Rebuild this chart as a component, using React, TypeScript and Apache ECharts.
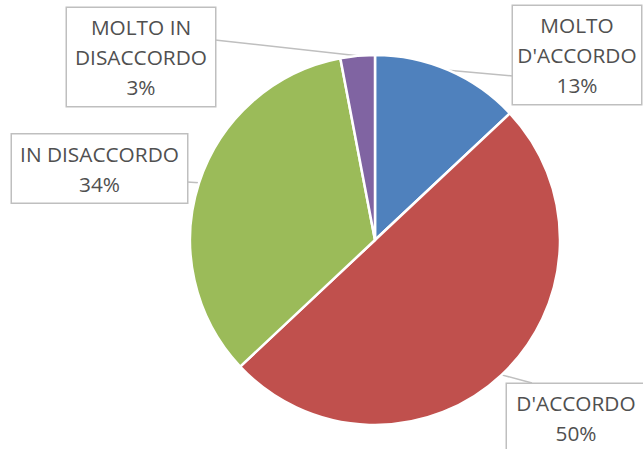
import React, { useEffect, useRef } from "react";
import * as echarts from "echarts";

const categories = ["MOLTO D'ACCORDO", "D'ACCORDO", "IN DISACCORDO", "MOLTO IN DISACCORDO"];
const labelTexts = ["MOLTO\nD'ACCORDO", "D'ACCORDO", "IN DISACCORDO", "MOLTO IN\nDISACCORDO"];
const values = [13, 50, 34, 3];
const colors = ["#4F81BD", "#C0504D", "#9BBB59", "#8064A2"];

// label box layout: center x, center y, width, height, line end point
const boxes = [
  { cx: 577, cy: 55, w: 128, h: 94, end: [513, 76] },
  { cx: 576, cy: 418, w: 138, h: 70, end: [532, 383] },
  { cx: 99.5, cy: 168.5, w: 175, h: 67, end: [187, 182] },
  { cx: 141, cy: 57, w: 148, h: 98, end: [215, 40] },
];

export default function App() {
  const ref = useRef<HTMLDivElement>(null);
  useEffect(() => {
    if (!ref.current) return;
    const chart = echarts.init(ref.current, null, { renderer: "svg" });
    chart.setOption({
      animation: false,
      backgroundColor: "#ffffff",
      series: [
        {
          type: "pie",
          center: [375, 240],
          radius: 185,
          startAngle: 90,
          clockwise: true,
          data: categories.map((c, i) => ({
            name: c,
            value: values[i],
            itemStyle: { color: colors[i] },
          })),
          itemStyle: { borderColor: "#ffffff", borderWidth: 2.5 },
          label: {
            show: true,
            position: "outside",
            formatter: (p: any) => labelTexts[p.dataIndex] + "\n" + p.value + "%",
            fontFamily: "Open Sans",
            fontSize: 20.8,
            color: "#505050",
            lineHeight: 30,
            align: "center",
            backgroundColor: "#ffffff",
            borderColor: "#BFBFBF",
            borderWidth: 1.5,
            padding: [4, 0, 4, 0],
          },
          labelLine: {
            show: true,
            length: 5,
            length2: 5,
            lineStyle: { color: "#BFBFBF", width: 1.5 },
          },
          labelLayout: (params: any) => {
            const b = boxes[params.dataIndex];
            const start = params.labelLinePoints ? params.labelLinePoints[0] : b.end;
            return {
              x: b.cx,
              y: b.cy,
              align: "center",
              verticalAlign: "middle",
              width: b.w,
              labelLinePoints: [start, b.end, b.end],
            };
          },
          emphasis: { disabled: true },
        },
      ],
    });
    return () => chart.dispose();
  }, []);
  return (
    <div
      ref={ref}
      style={{ position: "fixed", left: 0, top: 0, width: 643, height: 449 }}
    />
  );
}
